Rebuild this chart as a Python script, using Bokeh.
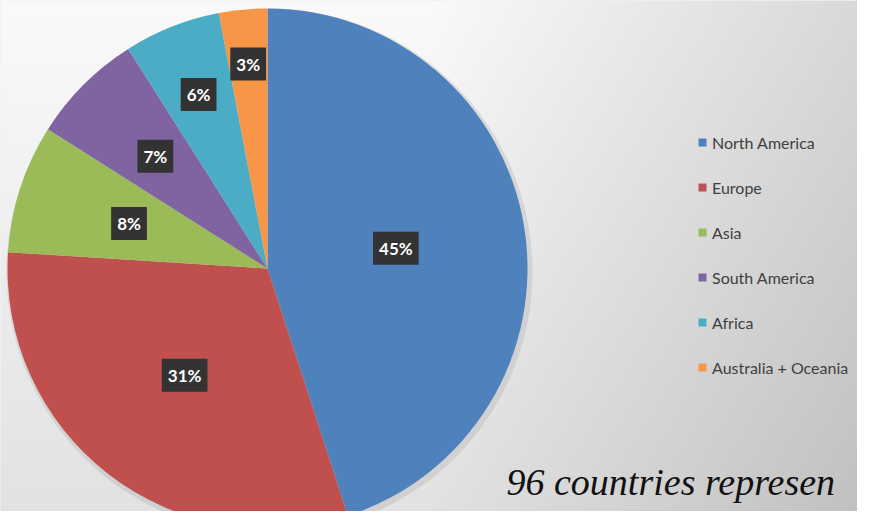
import numpy as np
from bokeh.plotting import figure
from bokeh.models import ColumnDataSource, Range1d, BoxAnnotation
from bokeh.core.properties import value
from bokeh.embed import file_html
from bokeh.resources import INLINE

# ---- data ----
regions = ["North America", "Europe", "Asia", "South America", "Africa", "Australia + Oceania"]
shares = [45, 31, 8, 7, 6, 3]
labels = ["45%", "31%", "8%", "7%", "6%", "3%"]
note = "96 countries represen"

# ---- style ----
colors = ["#4F81BD", "#C0504D", "#9BBB59", "#8064A2", "#4BACC6", "#F79646"]
label_radius_frac = [0.50, 0.52, 0.56, 0.61, 0.72, 0.79]

W, H = 857, 511
cx, cy, R = 267, 243, 260

frac = np.array(shares, dtype=float) / sum(shares)
cum = np.cumsum(frac)
start = np.pi / 2 - 2 * np.pi * (cum - frac)
end = np.pi / 2 - 2 * np.pi * cum
mid = (start + end) / 2
lr = np.array(label_radius_frac) * R

src = ColumnDataSource(dict(
    region=regions, start=start, end=end, color=colors,
    lx=cx + lr * np.cos(mid), ly=cy + lr * np.sin(mid), label=labels,
))

p = figure(width=W, height=H, x_range=Range1d(0, W), y_range=Range1d(0, H),
           output_backend="svg", toolbar_location=None, min_border=0,
           x_axis_location=None, y_axis_location=None)
p.grid.visible = False
p.outline_line_color = None
p.background_fill_color = "#e6e6e6"
p.border_fill_color = "#e6e6e6"

# background gradient
xs = np.linspace(0, W, W)
ys = np.linspace(0, H, H)
X, Y = np.meshgrid(xs, ys)  # row 0 = bottom
ytop = H - Y
b = 250 - 34 * np.clip((X - 430) / 440, 0, 1) - 24 * (ytop / H)
b = np.clip(b, 0, 255).astype(np.uint32)
img = (255 << 24) | (b << 16) | (b << 8) | b
p.image_rgba(image=[img.astype(np.uint32)], x=0, y=0, dw=W, dh=H)

# pie shadow
p.circle(x=cx + 2, y=cy - 3, radius=R + 3, fill_color="#9a9a9a", fill_alpha=0.25, line_color=None)

p.wedge(x=cx, y=cy, radius=R, start_angle="start", end_angle="end", direction="clock",
        fill_color="color", line_color=None, legend_field="region", source=src)

p.text(x="lx", y="ly", text="label", source=src, text_color="white",
       text_font=value("Lato"), text_font_style="bold", text_font_size="17px",
       text_align="center", text_baseline="middle",
       background_fill_color="#333333", padding=6)

# legend box
p.add_layout(BoxAnnotation(left=614, right=W + 5, bottom=118, top=391,
                           fill_color="#f1f1f1", fill_alpha=1.0, line_color="#dcdcdc", level="underlay"))

lg = p.legend[0]
lg.location = (697, 134)
lg.padding = 0
lg.margin = 0
lg.spacing = 25
lg.label_height = 20
lg.glyph_height = 10
lg.glyph_width = 10
lg.label_standoff = 5
lg.label_text_font = "Lato"
lg.label_text_font_size = "16px"
lg.label_text_color = "#404040"
lg.background_fill_alpha = 0
lg.border_line_color = None

p.text(x=[506], y=[30], text=[note], text_font=value("Liberation Serif"),
       text_font_style="italic", text_font_size="38px", text_color="#111111",
       text_baseline="middle")

open("out.html", "w").write(file_html(p, INLINE))
